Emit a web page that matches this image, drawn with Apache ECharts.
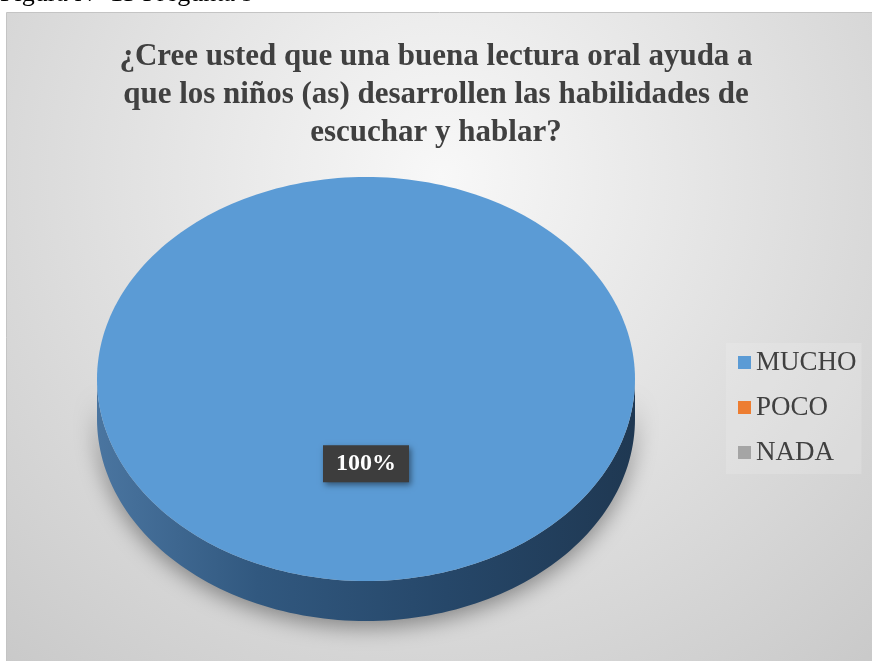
<!DOCTYPE html>
<html>
<head>
<meta charset="utf-8">
<script src="https://cdn.jsdelivr.net/npm/echarts@6/dist/echarts.min.js"></script>
<style>
html, body { margin: 0; padding: 0; background: #fff; }
#chart { width: 872px; height: 661px; }
</style>
</head>
<body>
<div id="chart"></div>
<script>
// datos
var categorias = ['MUCHO', 'POCO', 'NADA'];
var valores = [100, 0, 0];
var colores = ['#5B9BD5', '#ED7D31', '#A5A5A5'];
var titulo = '¿Cree usted que una buena lectura oral ayuda a\nque los niños (as) desarrollen las habilidades de\nescuchar y hablar?';
var figura = 'Figura N° 13 Pregunta 9';

var total = valores.reduce(function (s, v) { return s + v; }, 0);

// elipse del pastel 3D
var cx = 366, cy = 379, rx = 269, ry = 202, grosor = 40;

function punto(a, dy) {
	return [cx + rx * Math.sin(a), cy - ry * Math.cos(a) + (dy || 0)];
}
function arco(a0, a1, dy) {
	var pts = [], n = Math.max(2, Math.ceil((a1 - a0) / (2 * Math.PI) * 240));
	for (var k = 0; k <= n; k++) pts.push(punto(a0 + (a1 - a0) * k / n, dy));
	return pts;
}

function render(i) {
	return function (params, api) {
		var v = api.value(0);
		if (!v) return;
		var antes = valores.slice(0, i).reduce(function (s, x) { return s + x; }, 0);
		var a0 = antes / total * 2 * Math.PI;
		var a1 = a0 + v / total * 2 * Math.PI;
		var hijos = [];

		// lado (solo la mitad frontal)
		var s = Math.max(a0, Math.PI / 2), e = Math.min(a1, 3 * Math.PI / 2);
		if (s < e) {
			var lado = arco(s, e, 0).concat(arco(s, e, grosor).reverse());
			hijos.push({
				type: 'polygon',
				shape: { points: lado },
				style: {
					fill: new echarts.graphic.LinearGradient(0, 0, 1, 0, [
						{ offset: 0, color: '#4a75a0' },
						{ offset: 0.3, color: '#31587f' },
						{ offset: 0.65, color: '#264769' },
						{ offset: 1, color: '#1f3852' }
					]),
					shadowBlur: 22,
					shadowColor: 'rgba(0,0,0,0.4)',
					shadowOffsetY: 6
				}
			});
		}

		// cara superior
		var cara = arco(a0, a1, 0);
		if (v < total) cara.unshift([cx, cy]);
		hijos.push({
			type: 'polygon',
			shape: { points: cara },
			style: { fill: api.visual('color') }
		});

		// etiqueta
		var am = (a0 + a1) / 2;
		hijos.push({
			type: 'text',
			x: cx + rx * 0.42 * Math.sin(am),
			y: cy - ry * 0.42 * Math.cos(am),
			style: {
				text: Math.round(v / total * 100) + '%',
				fill: '#fff',
				font: 'bold 24px "Liberation Serif"',
				align: 'center',
				verticalAlign: 'middle',
				backgroundColor: '#3d3d3d',
				padding: [7, 13, 6, 13],
				shadowBlur: 6,
				shadowColor: 'rgba(0,0,0,0.45)',
				shadowOffsetX: 2,
				shadowOffsetY: 3
			}
		});
		return { type: 'group', children: hijos };
	};
}

var series = categorias.map(function (c, i) {
	return {
		name: c,
		type: 'custom',
		coordinateSystem: 'none',
		itemStyle: { color: colores[i] },
		renderItem: render(i),
		data: [[valores[i]]]
	};
});

var chart = echarts.init(document.getElementById('chart'));
chart.setOption({
	backgroundColor: '#fff',
	animation: false,
	graphic: [
		{
			type: 'rect',
			z: -10,
			shape: { x: 6.5, y: 12.5, width: 870, height: 655 },
			style: {
				fill: new echarts.graphic.RadialGradient(0.5, 0.25, 1, [
					{ offset: 0, color: '#f8f8f8' },
					{ offset: 1, color: '#c9c9c9' }
				]),
				stroke: '#c4c4c4',
				lineWidth: 1
			}
		},
		{
			type: 'text',
			x: 0,
			y: 7,
			style: {
				text: figura,
				fill: '#000',
				font: '26px "Liberation Serif"',
				verticalAlign: 'bottom'
			}
		}
	],
	title: {
		text: titulo,
		left: 'center',
		top: 33,
		textStyle: {
			fontFamily: 'Liberation Serif',
			fontWeight: 'bold',
			fontSize: 31,
			lineHeight: 38,
			color: '#404040'
		}
	},
	legend: {
		orient: 'vertical',
		left: 726,
		top: 343,
		icon: 'rect',
		itemWidth: 13,
		itemHeight: 13,
		itemGap: 18,
		padding: [6, 5, 8, 12],
		backgroundColor: 'rgba(240,240,240,0.25)',
		data: categorias,
		textStyle: {
			fontFamily: 'Liberation Serif',
			fontSize: 27,
			color: '#404040'
		}
	},
	series: series
});
</script>
</body>
</html>
